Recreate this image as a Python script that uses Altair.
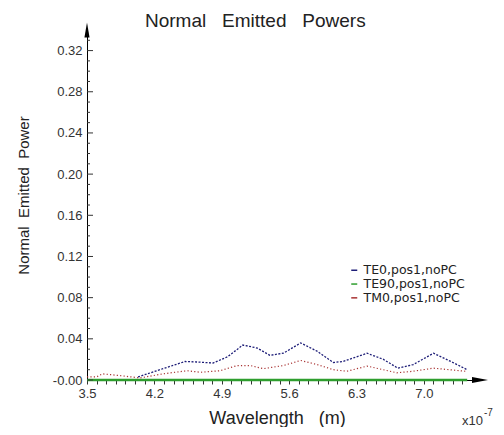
import altair as alt
import pandas as pd

# ---- data (wavelength in units of 1e-7 m) ----
series_names = ["TE0,pos1,noPC", "TE90,pos1,noPC", "TM0,pos1,noPC"]
series_colors = ["#1e1e78", "#2e9e2e", "#a83232"]
series_dash = [[2, 1.5], [1, 0], [1.2, 2.2]]
series_width = [1.3, 2.5, 1.2]

te0_x = [4.03, 4.29, 4.52, 4.64, 4.81, 4.96, 5.12, 5.27, 5.40, 5.54, 5.72, 5.89,
         6.06, 6.16, 6.41, 6.58, 6.73, 6.89, 7.10, 7.28, 7.45]
te0_y = [0.003, 0.011, 0.018, 0.0175, 0.0165, 0.0225, 0.034, 0.031, 0.024, 0.026, 0.036, 0.028,
         0.017, 0.018, 0.026, 0.020, 0.0115, 0.015, 0.026, 0.018, 0.010]

te90_x = [3.50, 7.45]
te90_y = [0.0, 0.0]

tm0_x = [3.50, 3.60, 3.66, 3.87, 4.05, 4.29, 4.54, 4.68, 4.88, 5.06, 5.20, 5.33,
         5.54, 5.72, 5.89, 6.06, 6.20, 6.41, 6.72, 6.89, 7.10, 7.43]
tm0_y = [0.003, 0.003, 0.006, 0.004, 0.002, 0.006, 0.009, 0.0075, 0.009, 0.014, 0.014, 0.011,
         0.014, 0.019, 0.015, 0.010, 0.0085, 0.0135, 0.007, 0.0085, 0.0115, 0.0085]

x_major = [3.5, 4.2, 4.9, 5.6, 6.3, 7.0]
x_minor = [round(3.5 + 0.1 * i, 1) for i in range(40)]
y_major = [0.0, 0.04, 0.08, 0.12, 0.16, 0.20, 0.24, 0.28, 0.32]
y_minor = [round(0.01 * i, 2) for i in range(1, 34) if i % 4 != 0]

X_DOMAIN = [3.5, 7.5]
Y_DOMAIN = [0.0, 0.34]

xs = alt.Scale(domain=X_DOMAIN, nice=False, zero=False)
ys = alt.Scale(domain=Y_DOMAIN, nice=False, zero=False)

major_labels = ",".join("'%.1f'" % v for v in x_major)

x_axis = alt.Axis(
    values=x_minor,
    labelExpr="indexof([" + major_labels + "], format(datum.value, '.1f')) >= 0 ? format(datum.value, '.1f') : ''",
    labelOverlap=False, labelFlush=False,
    labelFont="Liberation Sans", labelFontSize=13, labelColor="#333", labelPadding=3,
    ticks=True, tickSize=4, tickColor="#333", domainColor="#000", domainWidth=1,
    grid=False,
    title="Wavelength\u00a0\u00a0 (m)", titleFont="Liberation Sans", titleFontSize=18,
    titleFontWeight="normal", titleColor="#222", titleX=190, titleY=38,
    titleBaseline="middle", titleAlign="center")

y_axis = alt.Axis(
    values=y_major,
    labelExpr="datum.value == 0 ? '-0.00' : format(datum.value, '.2f')",
    labelFont="Liberation Sans", labelFontSize=13, labelColor="#333", labelPadding=5,
    labelOverlap=False,
    ticks=False, tickSize=0, domainColor="#000", domainWidth=1, grid=False,
    title="Normal\u00a0 Emitted\u00a0 Power", titleFont="Liberation Sans", titleFontSize=15,
    titleFontWeight="normal", titleColor="#222", titleX=-64, titleY=165,
    titleAngle=270, titleAlign="center", titleBaseline="middle")

layers = []
for name, xs_, ys_, col, dash, w in zip(series_names, [te0_x, te90_x, tm0_x],
                                        [te0_y, te90_y, tm0_y], series_colors,
                                        series_dash, series_width):
    d = pd.DataFrame({"wl": xs_, "p": ys_})
    layers.append(
        alt.Chart(d).mark_line(color=col, strokeDash=dash, strokeWidth=w, clip=False).encode(
            x=alt.X("wl:Q", scale=xs, axis=x_axis),
            y=alt.Y("p:Q", scale=ys, axis=y_axis),
        )
    )

# legend-only layer: one point per series draws no visible line
leg_df = pd.DataFrame({"series": series_names, "wl": [X_DOMAIN[0]] * 3, "p": [Y_DOMAIN[0]] * 3})
legend_layer = alt.Chart(leg_df).mark_line(strokeWidth=0).encode(
    x=alt.X("wl:Q", scale=xs, axis=x_axis),
    y=alt.Y("p:Q", scale=ys, axis=y_axis),
    color=alt.Color("series:N", scale=alt.Scale(domain=series_names, range=series_colors),
                    legend=alt.Legend(orient="none", legendX=261, legendY=234, title=None,
                                      symbolType="stroke", symbolSize=36, symbolStrokeWidth=1.5,
                                      labelFont="DejaVu Sans", labelFontSize=12.5, labelColor="#222",
                                      rowPadding=0.8, padding=0, labelOffset=3)),
)

ymaj_df = pd.DataFrame({"v": y_major})
ymin_df = pd.DataFrame({"v": y_minor})
tick_major = alt.Chart(ymaj_df).mark_rule(color="#333", strokeWidth=1).encode(
    y=alt.Y("v:Q", scale=ys, axis=y_axis), x=alt.value(0), x2=alt.value(6))
tick_minor = alt.Chart(ymin_df).mark_rule(color="#333", strokeWidth=1).encode(
    y=alt.Y("v:Q", scale=ys, axis=y_axis), x=alt.value(0), x2=alt.value(3))

up_df = pd.DataFrame({"wl": [X_DOMAIN[0]], "p": [Y_DOMAIN[1]]})
right_df = pd.DataFrame({"wl": [X_DOMAIN[1]], "p": [Y_DOMAIN[0]]})
arrow_up = alt.Chart(up_df).mark_point(shape="M0,-1L0.34,1L-0.34,1Z", filled=True, size=225,
                                       color="#000", opacity=1).encode(
    x=alt.X("wl:Q", scale=xs, axis=x_axis), y=alt.Y("p:Q", scale=ys, axis=y_axis))
arrow_right = alt.Chart(right_df).mark_point(shape="M1,0L-1,-0.36L-1,0.36Z", filled=True, size=256,
                                             color="#000", opacity=1, xOffset=8).encode(
    x=alt.X("wl:Q", scale=xs, axis=x_axis), y=alt.Y("p:Q", scale=ys, axis=y_axis))

title_df = pd.DataFrame({"t": ["Normal\u00a0\u00a0\u00a0Emitted\u00a0\u00a0\u00a0Powers"]})
title = alt.Chart(title_df).mark_text(align="left", baseline="alphabetic", fontSize=19,
                                      font="Liberation Sans", color="#222").encode(
    x=alt.value(58), y=alt.value(-3), text="t:N")

exp_df = pd.DataFrame({"t": ["x10"]})
exp_base = alt.Chart(exp_df).mark_text(align="left", baseline="alphabetic", fontSize=13,
                                       font="Liberation Sans", color="#333").encode(
    x=alt.value(375), y=alt.value(395), text="t:N")
exp_sup_df = pd.DataFrame({"t": ["-7"]})
exp_sup = alt.Chart(exp_sup_df).mark_text(align="left", baseline="alphabetic", fontSize=10,
                                          font="Liberation Sans", color="#333").encode(
    x=alt.value(397), y=alt.value(386), text="t:N")

chart = alt.layer(
    *layers, legend_layer, tick_major, tick_minor, arrow_up, arrow_right, title, exp_base, exp_sup
).properties(
    width=385, height=350,
    autosize=alt.AutoSizeParams(type="none"),
    padding={"left": 79, "top": 22, "right": 24, "bottom": 47},
    background="white",
).configure_view(stroke="transparent")

chart.save("out.html", embed_options={"renderer": "svg", "actions": False})
